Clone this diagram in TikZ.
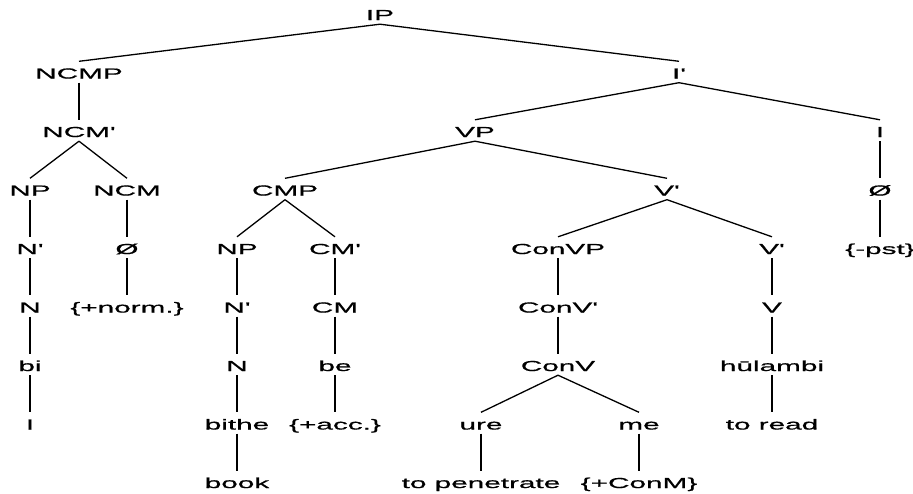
\documentclass[tikz,border=0pt]{standalone}
\usepackage{fontspec}
\newfontfamily\treefont{Liberation Sans}[FakeStretch=2.05,FakeBold=0.8]
\tikzset{
  cat/.style={font=\treefont\fontsize{14.5}{16}\selectfont, text height=13pt,
    text depth=0pt, inner ysep=4pt, inner xsep=1pt, anchor=base},
  branch/.style={line width=1.3pt}
}
\begin{document}
\begin{tikzpicture}[x=1pt,y=-1pt,every node/.style={cat}]
      \useasboundingbox (0,0) rectangle (913,493);
      \node (IP) at (380,20) {IP};
      \node (NCMP) at (79,78.5) {NCMP};
      \node (Ib) at (679,78.5) {I'};
      \node (NCMb) at (79,137) {NCM'};
      \node (VP) at (475,137) {VP};
      \node (I) at (880,137) {I};
      \node (NP1) at (30,195.5) {NP};
      \node (NCM) at (127,195.5) {NCM};
      \node (CMP) at (285,195.5) {CMP};
      \node (Vb1) at (667,195.5) {V'};
      \node (nullI) at (880,195.5) {Ø};
      \node (Nb1) at (30,254) {N'};
      \node (nullN) at (127,254) {Ø};
      \node (NP2) at (237,254) {NP};
      \node (CMb) at (335,254) {CM'};
      \node (ConVP) at (558,254) {ConVP};
      \node (Vb2) at (772,254) {V'};
      \node (pst) at (880,254) {\{-pst\}};
      \node (N1) at (30,312.5) {N};
      \node (norm) at (127,312.5) {\{+norm.\}};
      \node (Nb2) at (237,312.5) {N'};
      \node (CM) at (335,312.5) {CM};
      \node (ConVb) at (558,312.5) {ConV'};
      \node (V) at (772,312.5) {V};
      \node (bi) at (30,371) {bi};
      \node (N2) at (237,371) {N};
      \node (be) at (335,371) {be};
      \node (ConV) at (558,371) {ConV};
      \node (hulambi) at (772,371) {hūlambi};
      \node (glI) at (30,429.5) {I};
      \node (bithe) at (237,429.5) {bithe};
      \node (acc) at (335,429.5) {\{+acc.\}};
      \node (ure) at (481,429.5) {ure};
      \node (me) at (639,429.5) {me};
      \node (read) at (772,429.5) {to read};
      \node (book) at (237,488) {book};
      \node (pen) at (481,488) {to penetrate};
      \node (ConM) at (639,488) {\{+ConM\}};
      % branches
      \draw[branch] (IP.south) -- (NCMP.north);
      \draw[branch] (IP.south) -- (Ib.north);
      \draw[branch] (NCMP.south) -- (NCMb.north);
      \draw[branch] (NCMb.south) -- (NP1.north);
      \draw[branch] (NCMb.south) -- (NCM.north);
      \draw[branch] (NP1.south) -- (Nb1.north);
      \draw[branch] (Nb1.south) -- (N1.north);
      \draw[branch] (N1.south) -- (bi.north);
      \draw[branch] (bi.south) -- (glI.north);
      \draw[branch] (NCM.south) -- (nullN.north);
      \draw[branch] (nullN.south) -- (norm.north);
      \draw[branch] (Ib.south) -- (VP.north);
      \draw[branch] (Ib.south) -- (I.north);
      \draw[branch] (I.south) -- (nullI.north);
      \draw[branch] (nullI.south) -- (pst.north);
      \draw[branch] (VP.south) -- (CMP.north);
      \draw[branch] (VP.south) -- (Vb1.north);
      \draw[branch] (CMP.south) -- (NP2.north);
      \draw[branch] (CMP.south) -- (CMb.north);
      \draw[branch] (NP2.south) -- (Nb2.north);
      \draw[branch] (Nb2.south) -- (N2.north);
      \draw[branch] (N2.south) -- (bithe.north);
      \draw[branch] (bithe.south) -- (book.north);
      \draw[branch] (CMb.south) -- (CM.north);
      \draw[branch] (CM.south) -- (be.north);
      \draw[branch] (be.south) -- (acc.north);
      \draw[branch] (Vb1.south) -- (ConVP.north);
      \draw[branch] (Vb1.south) -- (Vb2.north);
      \draw[branch] (ConVP.south) -- (ConVb.north);
      \draw[branch] (ConVb.south) -- (ConV.north);
      \draw[branch] (ConV.south) -- (ure.north);
      \draw[branch] (ConV.south) -- (me.north);
      \draw[branch] (ure.south) -- (pen.north);
      \draw[branch] (me.south) -- (ConM.north);
      \draw[branch] (Vb2.south) -- (V.north);
      \draw[branch] (V.south) -- (hulambi.north);
      \draw[branch] (hulambi.south) -- (read.north);
\end{tikzpicture}
\end{document}
